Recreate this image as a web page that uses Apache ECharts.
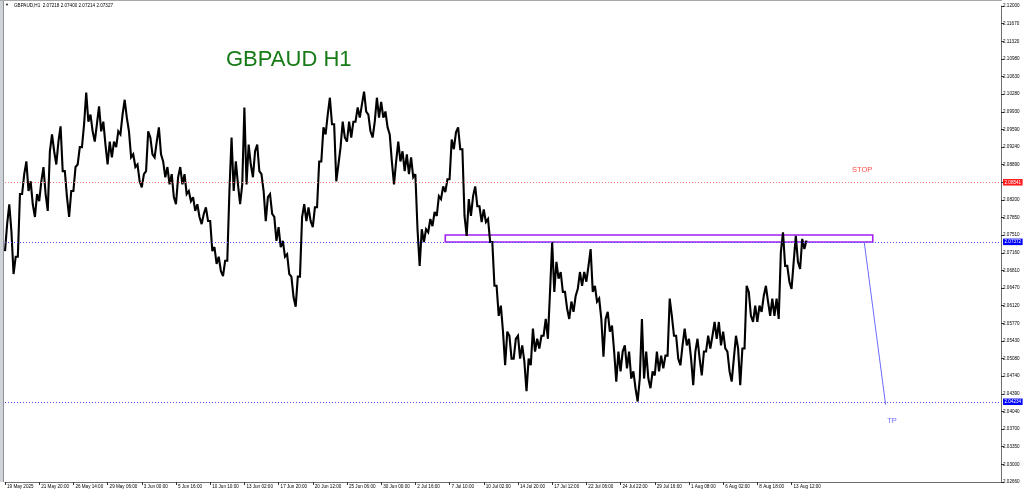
<!DOCTYPE html>
<html><head><meta charset="utf-8">
<script src="https://cdn.jsdelivr.net/npm/echarts@6/dist/echarts.min.js"></script>
<style>html,body{margin:0;padding:0;background:#fff}#c{width:1024px;height:495px}</style>
</head><body><div id="c"></div>
<script>
// ---- DATA ----
const timeLabels = ['19 May 2025','21 May 20:00','26 May 14:00','29 May 06:00','3 Jun 00:00','5 Jun 16:00','10 Jun 10:00','13 Jun 02:00','17 Jun 20:00','20 Jun 12:00','25 Jun 06:00','30 Jun 00:00','2 Jul 16:00','7 Jul 10:00','10 Jul 02:00','14 Jul 20:00','17 Jul 12:00','22 Jul 06:00','24 Jul 22:00','29 Jul 16:00','1 Aug 08:00','6 Aug 02:00','8 Aug 18:00','13 Aug 12:00'];
const priceLabels = ['2.02660','2.03000','2.03350','2.03700','2.04040','2.04390','2.04740','2.05080','2.05430','2.05770','2.06120','2.06470','2.06810','2.07160','2.07510','2.07850','2.08200','2.08540','2.08890','2.09240','2.09590','2.09930','2.10280','2.10630','2.10980','2.11320','2.11670','2.12000'];
// 8-hour blocks: high / low of each block
const highs = [2.0772,2.0811,2.0708,2.0831,2.0870,2.0895,2.0856,2.0831,2.0856,2.0884,
2.0915,2.0948,2.0934,2.0964,2.0876,2.0837,2.0884,2.0923,2.0968,2.1030,
2.0987,2.0968,2.1003,2.0973,2.0934,2.0934,2.0954,2.0987,2.1016,2.0954,
2.0909,2.0889,2.0870,2.0954,2.0942,2.0934,2.0962,2.0895,2.0884,2.0870,
2.0864,2.0884,2.0870,2.0837,2.0825,2.0811,2.0792,2.0805,2.0778,2.0727,
2.0708,2.0700,2.0837,2.0942,2.0895,2.0850,2.1001,2.0928,2.0915,2.0928,
2.0870,2.0825,2.0831,2.0786,2.0766,2.0739,2.0713,2.0669,2.0669,2.0786,
2.0811,2.0805,2.0805,2.0895,2.0962,2.0987,2.1020,2.0968,2.0923,2.0973,
2.0973,2.0973,2.1001,2.1007,2.1032,2.0987,2.0973,2.1020,2.1012,2.0993,
2.0948,2.0895,2.0934,2.0915,2.0909,2.0903,2.0870,2.0762,2.0762,2.0782,
2.0796,2.0827,2.0846,2.0860,2.0938,2.0952,2.0962,2.0919,2.0821,2.0827,
2.0846,2.0807,2.0801,2.0782,2.0737,2.0651,2.0612,2.0561,2.0553,2.0547,
2.0553,2.0534,2.0508,2.0567,2.0547,2.0553,2.0586,2.0639,2.0737,2.0698,
2.0678,2.0639,2.0620,2.0631,2.0678,2.0678,2.0690,2.0723,2.0651,2.0626,
2.0586,2.0600,2.0573,2.0522,2.0522,2.0534,2.0522,2.0483,2.0469,2.0586,
2.0522,2.0483,2.0522,2.0514,2.0514,2.0626,2.0592,2.0553,2.0534,2.0567,
2.0547,2.0522,2.0547,2.0522,2.0553,2.0553,2.0580,2.0580,2.0561,2.0522,
2.0508,2.0553,2.0528,2.0651,2.0639,2.0612,2.0612,2.0631,2.0651,2.0626,
2.0626,2.0717,2.0756,2.0690,2.0698,2.0749,2.0743,2.0740];
const lows = [2.0719,2.0758,2.0674,2.0708,2.0831,2.0837,2.0811,2.0786,2.0817,2.0831,
2.0798,2.0915,2.0889,2.0876,2.0825,2.0786,2.0837,2.0889,2.0923,2.0973,
2.0954,2.0934,2.0954,2.0928,2.0889,2.0903,2.0923,2.0948,2.0981,2.0903,
2.0884,2.0856,2.0844,2.0876,2.0909,2.0903,2.0909,2.0864,2.0850,2.0825,
2.0811,2.0850,2.0831,2.0817,2.0798,2.0786,2.0772,2.0778,2.0719,2.0694,
2.0680,2.0670,2.0700,2.0837,2.0850,2.0811,2.0850,2.0889,2.0864,2.0876,
2.0837,2.0778,2.0792,2.0739,2.0727,2.0708,2.0674,2.0629,2.0610,2.0669,
2.0778,2.0778,2.0766,2.0805,2.0895,2.0948,2.0968,2.0856,2.0889,2.0942,
2.0934,2.0942,2.0973,2.0981,2.0993,2.0954,2.0942,2.0981,2.0981,2.0962,
2.0895,2.0850,2.0895,2.0876,2.0870,2.0864,2.0762,2.0690,2.0737,2.0756,
2.0768,2.0788,2.0821,2.0835,2.0860,2.0919,2.0919,2.0788,2.0749,2.0788,
2.0807,2.0776,2.0776,2.0737,2.0651,2.0592,2.0561,2.0495,2.0508,2.0508,
2.0508,2.0502,2.0444,2.0495,2.0522,2.0528,2.0553,2.0547,2.0639,2.0665,
2.0639,2.0606,2.0586,2.0600,2.0645,2.0651,2.0659,2.0639,2.0620,2.0586,
2.0512,2.0561,2.0522,2.0463,2.0483,2.0489,2.0469,2.0450,2.0424,2.0469,
2.0469,2.0450,2.0475,2.0483,2.0489,2.0514,2.0553,2.0508,2.0495,2.0534,
2.0508,2.0456,2.0508,2.0475,2.0522,2.0528,2.0547,2.0534,2.0528,2.0483,
2.0463,2.0528,2.0456,2.0528,2.0592,2.0580,2.0580,2.0600,2.0620,2.0592,
2.0592,2.0586,2.0690,2.0659,2.0645,2.0698,2.0684,2.0723];
const ohlcLast = ['2.07218','2.07400','2.07214','2.07327'];
const stopPrice = 2.08541, entryPrice = 2.07372, bidPrice = 2.07327, tpPrice = 2.04234;
const zoneTop = 2.07506, zoneBottom = 2.07369;
const zoneStartBlock = 103, zoneEndBlock = 203;
const arrowFrom = [201, 2.0737], arrowTo = [206, 2.0418];
const stopText = [200.5, 2.0878], tpText = [207.5, 2.0385];
const totalBlocks = 233.5, blocksPerLabel = 8;
const yMin = 2.0266, yMax = 2.12;

// ---- CHART ----
// each 8-hour block is drawn as two half-slots (its two extremes, in path order)
const nSlots = Math.round(totalBlocks * 2);
const cats = Array.from({length: nSlots}, (_, i) => String(i));
const slot = (b) => cats[Math.round(b * 2)];
const pathVals = [];
for (let i = 0; i < highs.length; i++) {
  const mid = (highs[i] + lows[i]) / 2;
  const nxt = i + 1 < highs.length ? (highs[i + 1] + lows[i + 1]) / 2 : mid;
  if (nxt >= mid) { pathVals.push(lows[i], highs[i]); } else { pathVals.push(highs[i], lows[i]); }
}
const yInterval = (yMax - yMin) / (priceLabels.length - 1);
const isTick = (idx) => idx % (blocksPerLabel * 2) === 0 && idx / (blocksPerLabel * 2) < timeLabels.length;
const F = 'Liberation Sans, Arial, sans-serif';
const tag = (bg, fg) => ({show: true, position: 'end', distance: 2, backgroundColor: bg, color: fg,
  fontSize: 4.6, fontFamily: F, padding: [1, 1.5, 0.5, 1.5], formatter: p => Number(p.value).toFixed(5)});

const chart = echarts.init(document.getElementById('c'), null, {renderer: 'canvas'});
chart.setOption({
  animation: false,
  backgroundColor: '#fff',
  title: [
    {text: 'GBPAUD H1', left: 226, top: 49, padding: 0,
     textStyle: {fontFamily: F, fontSize: 22, fontWeight: 'normal', color: '#167a16'}},
    {text: '▼', left: 5, top: 3, padding: 0, textStyle: {fontSize: 4, color: '#000', fontWeight: 'normal'}},
    {text: 'GBPAUD,H1  ' + ohlcLast.join(' '), left: 14, top: 3, padding: 0,
     textStyle: {fontFamily: F, fontSize: 4.6, color: '#000', fontWeight: 'normal'}}
  ],
  graphic: [
    {type: 'rect', left: 0, top: 0, shape: {width: 3, height: 482}, style: {fill: '#cfd3d8'}, silent: true},
    {type: 'rect', left: 3, top: 0, shape: {width: 1, height: 482}, style: {fill: '#8c939b'}, silent: true},
    {type: 'rect', left: 0, top: 0, shape: {width: 1002, height: 1}, style: {fill: '#a8a8a8'}, silent: true}
  ],
  grid: {left: 5, right: 23, top: 6, bottom: 13, containLabel: false},
  xAxis: {
    type: 'category', data: cats, boundaryGap: false,
    axisLine: {lineStyle: {color: '#6e6e6e', width: 1}},
    axisTick: {show: true, length: 3, interval: (i) => isTick(i), lineStyle: {color: '#333'}},
    axisLabel: {interval: (i) => isTick(i), formatter: (v, i) => timeLabels[i / (blocksPerLabel * 2)],
      align: 'left', margin: 2, fontSize: 4.6, fontFamily: F, color: '#000', padding: [0, 0, 0, 2]},
    splitLine: {show: false}
  },
  yAxis: {
    type: 'value', position: 'right', min: yMin, max: yMax, interval: yInterval, scale: true,
    axisLine: {show: true, lineStyle: {color: '#6e6e6e', width: 1}},
    axisTick: {show: true, length: 3, lineStyle: {color: '#333'}},
    axisLabel: {formatter: (v) => priceLabels[Math.round((v - yMin) / yInterval)] || '',
      margin: 2, fontSize: 4.6, fontFamily: F, color: '#000'},
    splitLine: {show: false}
  },
  series: [{
    type: 'line', data: pathVals, symbol: 'none', smooth: false,
    lineStyle: {color: '#000', width: 2.1, join: 'miter', miterLimit: 3},
    markLine: {
      silent: true, symbol: 'none', animation: false, precision: 5,
      data: [
        {yAxis: stopPrice, lineStyle: {color: '#ff7373', type: [1, 2], width: 1}, label: tag('#ff1a1a', '#fff')},
        {yAxis: bidPrice, lineStyle: {opacity: 0}, label: tag('#000', '#fff')},
        {yAxis: entryPrice, lineStyle: {color: '#4a4aff', type: [1, 2], width: 1}, label: tag('#0000ff', '#fff')},
        {yAxis: tpPrice, lineStyle: {color: '#4a4aff', type: [1, 2], width: 1}, label: tag('#0000ff', '#fff')},
        [{coord: [slot(arrowFrom[0]), arrowFrom[1]], lineStyle: {color: '#6b6bff', type: 'solid', width: 1}, label: {show: false}},
         {coord: [slot(arrowTo[0]), arrowTo[1]]}]
      ]
    },
    markArea: {
      silent: true,
      data: [[
        {xAxis: slot(zoneStartBlock), yAxis: zoneTop, itemStyle: {color: 'rgba(255,255,255,0)', borderColor: '#a41ff0', borderWidth: 1.6}},
        {xAxis: slot(zoneEndBlock), yAxis: zoneBottom}
      ]]
    },
    markPoint: {
      silent: true, symbol: 'circle', symbolSize: 0,
      data: [
        {coord: [slot(stopText[0]), stopText[1]], label: {show: true, position: 'inside', formatter: 'STOP', color: '#ff4d4d', fontSize: 7.5, fontFamily: F}},
        {coord: [slot(tpText[0]), tpText[1]], label: {show: true, position: 'inside', formatter: 'TP', color: '#6b6bff', fontSize: 7.5, fontFamily: F}}
      ]
    }
  }]
});
</script></body></html>
